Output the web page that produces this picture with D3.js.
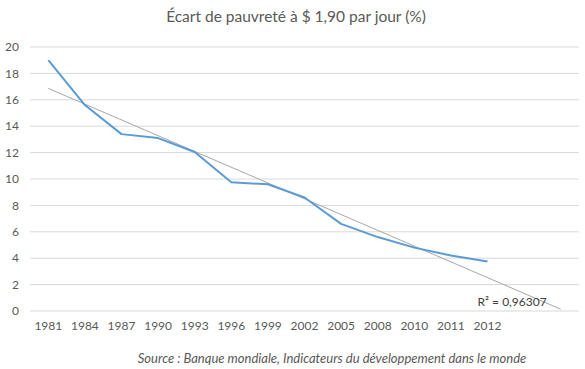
<!DOCTYPE html>
<meta charset="utf-8">
<style>
body { margin: 0; background: #fff; }
text { font-family: Lato, "Open Sans", sans-serif; fill: #595959; }
.grid line { stroke: #d9d9d9; stroke-width: 1px; }
.line { fill: none; stroke: #5b9bd5; stroke-width: 2px; stroke-linejoin: round; }
.trend { fill: none; stroke: #a6a6a6; stroke-width: 1px; }
</style>
<svg width="585" height="369"></svg>
<script src="https://d3js.org/d3.v7.min.js"></script>
<script>
var years = ["1981", "1984", "1987", "1990", "1993", "1996", "1999", "2002", "2005", "2008", "2010", "2011", "2012"];
var gap = [19.0, 15.6, 13.4, 13.1, 12.05, 9.75, 9.6, 8.6, 6.6, 5.6, 4.8, 4.2, 3.75];
var yTicks = [0, 2, 4, 6, 8, 10, 12, 14, 16, 18, 20];
var forward = ["f1", "f2"]; // trendline forecast, two empty periods

var svg = d3.select("svg"),
    margin = {top: 47, right: 6, bottom: 58, left: 30},
    width = +svg.attr("width") - margin.left - margin.right,
    height = +svg.attr("height") - margin.top - margin.bottom,
    g = svg.append("g").attr("transform", "translate(" + margin.left + "," + margin.top + ")");

var x = d3.scaleBand()
    .domain(years.concat(forward))
    .range([0, width]);
var y = d3.scaleLinear()
    .domain([0, 20])
    .range([height, 0]);

var cx = function(i) { return x(x.domain()[i]) + x.bandwidth() / 2; };

// gridlines
g.append("g")
    .attr("class", "grid")
  .selectAll("line")
  .data(yTicks)
  .enter().append("line")
    .attr("x1", 0)
    .attr("x2", width)
    .attr("y1", function(d) { return y(d); })
    .attr("y2", function(d) { return y(d); });

// y labels
g.append("g")
  .selectAll("text")
  .data(yTicks)
  .enter().append("text")
    .attr("x", -11)
    .attr("y", function(d) { return y(d); })
    .attr("dy", "0.35em")
    .attr("text-anchor", "end")
    .style("font-size", "12px")
    .text(function(d) { return d; });

// x labels
g.append("g")
  .selectAll("text")
  .data(years)
  .enter().append("text")
    .attr("x", function(d) { return x(d) + x.bandwidth() / 2; })
    .attr("y", height + 15)
    .attr("dy", "0.35em")
    .attr("text-anchor", "middle")
    .style("font-size", "12px")
    .text(function(d) { return d; });

// linear trendline (least squares on index)
var n = gap.length,
    mx = d3.mean(gap, function(d, i) { return i; }),
    my = d3.mean(gap),
    sxy = d3.sum(gap, function(d, i) { return (i - mx) * (d - my); }),
    sxx = d3.sum(gap, function(d, i) { return (i - mx) * (i - mx); }),
    slope = sxy / sxx,
    icpt = my - slope * mx;
var last = n - 1 + forward.length;

g.append("line")
    .attr("class", "trend")
    .attr("x1", cx(0))
    .attr("y1", y(icpt))
    .attr("x2", cx(last))
    .attr("y2", y(icpt + slope * last));

var line = d3.line()
    .x(function(d, i) { return cx(i); })
    .y(function(d) { return y(d); });

g.append("path")
    .datum(gap)
    .attr("class", "line")
    .attr("d", line);

g.append("text")
    .attr("x", cx(12) - 10)
    .attr("y", y(0) - 9)
    .attr("dy", "0.35em")
    .style("font-size", "12px")
    .style("fill", "#404040")
    .text("R² = 0,96307");

svg.append("text")
    .attr("x", 296)
    .attr("y", 17)
    .attr("dy", "0.35em")
    .attr("text-anchor", "middle")
    .style("font-size", "15.5px")
    .text("Écart de pauvreté à $ 1,90 par jour (%)");

svg.append("text")
    .attr("x", 332)
    .attr("y", 358)
    .attr("dy", "0.35em")
    .attr("text-anchor", "middle")
    .style("font-size", "13px")
    .style("font-style", "italic")
    .text("Source : Banque mondiale, Indicateurs du développement dans le monde");
</script>
